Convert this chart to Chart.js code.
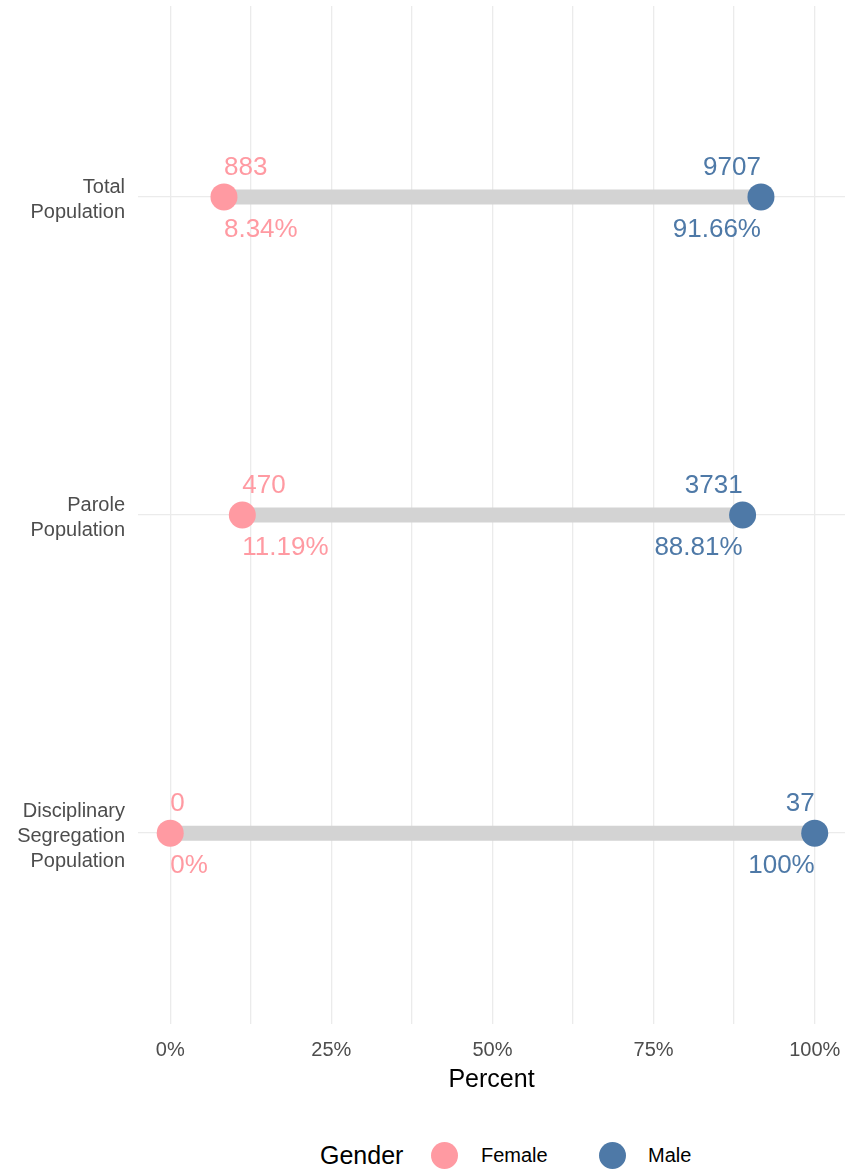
<!DOCTYPE html>
<html>
<head>
<meta charset="utf-8">
<script src="https://cdn.jsdelivr.net/npm/chart.js@4.4.0/dist/chart.umd.min.js"></script>
<style>
  body { margin: 0; background: #fff; font-family: "Liberation Sans", Arial, sans-serif; }
  #wrap { position: relative; width: 845px; height: 1170px; }
  #chart { position: absolute; left: 0; top: 0; }
  #legend { position: absolute; left: 0; top: 1138px; width: 845px; height: 34px; }
  #legend span { position: absolute; top: 0; line-height: 34px; white-space: nowrap; }
  .dot { width: 27px; height: 27px; border-radius: 50%; top: 4px !important; }
</style>
</head>
<body>
<div id="wrap">
  <canvas id="chart" width="845" height="1120"></canvas>
  <div id="legend">
    <span style="left:320px;font-size:25px;color:#000;">Gender</span>
    <span class="dot" style="left:431px;background:#FF9AA2;"></span>
    <span style="left:481px;font-size:20px;color:#000;">Female</span>
    <span class="dot" style="left:599px;background:#4E79A7;"></span>
    <span style="left:648px;font-size:20px;color:#000;">Male</span>
  </div>
</div>
<script>
// ---- datos ----
const categories = [["Total", "Population"], ["Parole", "Population"], ["Disciplinary", "Segregation", "Population"]];
const femalePct = [8.34, 11.19, 0];
const malePct = [91.66, 88.81, 100];
const femaleCount = [883, 470, 0];
const maleCount = [9707, 3731, 37];
const femalePctLabels = ["8.34%", "11.19%", "0%"];
const malePctLabels = ["91.66%", "88.81%", "100%"];
const xTickLabels = ["0%", "25%", "50%", "75%", "100%"];

const FEMALE = "#FF9AA2";
const MALE = "#4E79A7";
const FONT = "'Liberation Sans', Arial, sans-serif";

// segmentos grises (uno por categoria)
const segmentSets = categories.map((c, i) => ({
  data: [{ x: femalePct[i], y: i }, { x: malePct[i], y: i }],
  showLine: true,
  borderColor: "#D3D3D3",
  borderWidth: 15,
  borderCapStyle: "butt",
  pointRadius: 0,
  pointHoverRadius: 0,
  order: 10,
}));

// etiquetas de conteo y porcentaje
const labelsPlugin = {
  id: "pointLabels",
  afterDatasetsDraw(chart) {
    const { ctx, scales } = chart;
    ctx.save();
    ctx.font = "26px " + FONT;
    ctx.textBaseline = "middle";
    categories.forEach((c, i) => {
      const y = scales.y.getPixelForValue(i);
      const xf = scales.x.getPixelForValue(femalePct[i]);
      const xm = scales.x.getPixelForValue(malePct[i]);
      ctx.fillStyle = FEMALE;
      ctx.textAlign = "left";
      ctx.fillText(String(femaleCount[i]), xf, y - 29);
      ctx.fillText(femalePctLabels[i], xf, y + 33);
      ctx.fillStyle = MALE;
      ctx.textAlign = "right";
      ctx.fillText(String(maleCount[i]), xm, y - 29);
      ctx.fillText(malePctLabels[i], xm, y + 33);
    });
    ctx.restore();
  },
};

new Chart(document.getElementById("chart"), {
  type: "scatter",
  data: {
    datasets: [
      ...segmentSets,
      {
        label: "Female",
        data: femalePct.map((v, i) => ({ x: v, y: i })),
        backgroundColor: FEMALE,
        borderWidth: 0,
        pointRadius: 13.5,
        order: 0,
      },
      {
        label: "Male",
        data: malePct.map((v, i) => ({ x: v, y: i })),
        backgroundColor: MALE,
        borderWidth: 0,
        pointRadius: 13.5,
        order: 0,
      },
    ],
  },
  options: {
    responsive: false,
    animation: false,
    layout: { autoPadding: false, padding: { top: 6, right: 0, left: 0, bottom: 0 } },
    plugins: { legend: { display: false }, tooltip: { enabled: false } },
    scales: {
      x: {
        type: "linear",
        min: -5,
        max: 104.7,
        border: { display: false },
        grid: { color: "#EBEBEB", lineWidth: 1.3, drawTicks: false },
        afterBuildTicks: (s) => {
          s.ticks = [0, 12.5, 25, 37.5, 50, 62.5, 75, 87.5, 100].map((v) => ({ value: v }));
        },
        afterFit: (s) => {
          s.height = 96;
          s.paddingLeft = 0;
          s.paddingRight = 0;
        },
        ticks: {
          autoSkip: false,
          maxRotation: 0,
          padding: 14,
          color: "#4D4D4D",
          font: { size: 20, family: FONT },
          callback: (v) => (v % 25 === 0 ? xTickLabels[v / 25] : ""),
        },
        title: {
          display: true,
          text: "Percent",
          color: "#000",
          font: { size: 25, family: FONT },
          padding: { top: 0, bottom: 25 },
        },
      },
      y: {
        type: "linear",
        reverse: true,
        min: -0.6,
        max: 2.6,
        border: { display: false },
        grid: { color: "#EBEBEB", lineWidth: 1.3, drawTicks: false },
        afterBuildTicks: (s) => {
          s.ticks = categories.map((c, i) => ({ value: i }));
        },
        afterFit: (s) => {
          s.width = 138;
          s.paddingTop = 0;
          s.paddingBottom = 0;
        },
        ticks: {
          autoSkip: false,
          padding: 13,
          labelOffset: 3,
          color: "#4D4D4D",
          font: { size: 20, family: FONT, lineHeight: 1.25 },
          callback: (v) => categories[v],
        },
      },
    },
  },
  plugins: [labelsPlugin],
});
</script>
</body>
</html>
